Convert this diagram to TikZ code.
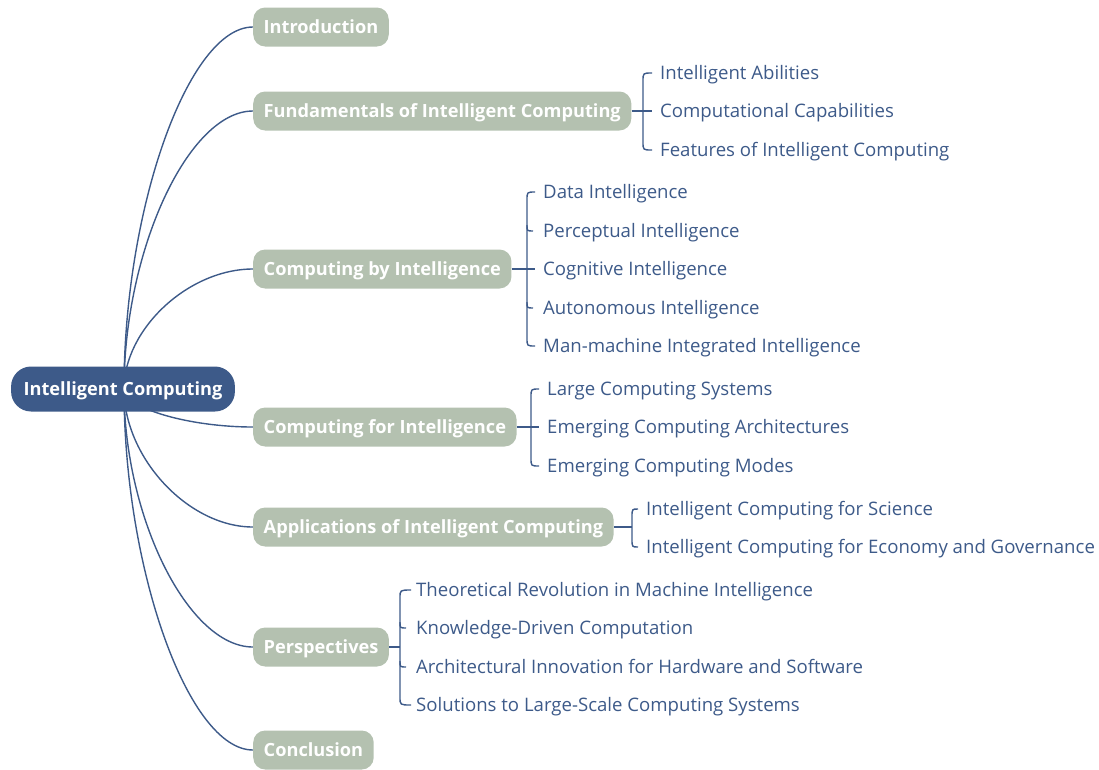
\documentclass[tikz,border=0pt]{standalone}
\usepackage{fontspec}
\setmainfont{Open Sans}
\usetikzlibrary{calc,backgrounds}
\definecolor{mmblue}{HTML}{3D5A89}
\definecolor{mmsage}{HTML}{B4C1B0}
\tikzset{
  x=1pt,y=-1pt,
  rootnode/.style={fill=mmblue,text=white,rounded corners=20pt,minimum height=45pt,inner xsep=12.5pt,
    font=\fontsize{18.2}{21}\selectfont\bfseries,text height=14.5pt,text depth=2.5pt},
  topic/.style={fill=mmsage,text=white,rounded corners=12pt,minimum height=39pt,inner xsep=10.5pt,anchor=west,
    font=\fontsize{18.2}{21}\selectfont\bfseries,text height=14.5pt,text depth=2.5pt},
  leaf/.style={text=mmblue,inner xsep=0pt,anchor=west,font=\fontsize{18.6}{22}\selectfont,text height=15pt,text depth=2.5pt},
  conn/.style={draw=mmblue,line width=1.4pt},
  branch/.style={conn,to path={let \p1=(\tikztostart), \p2=(\tikztotarget) in
    (\p1) .. controls (\x1,{0.5*\y1+0.5*\y2}) and ({0.5*\x1+0.5*\x2},\y2) .. (\p2)}}
}
\begin{document}
\begin{tikzpicture}
\useasboundingbox (0,0) rectangle (1099,769);
% root
\node[rootnode] (root) at (123,389) {Intelligent Computing};
% topics
\node[topic] (intro) at (253,27) {Introduction};
\node[topic] (fund) at (253,111) {Fundamentals of Intelligent Computing};
\node[topic] (cbi) at (253,269) {Computing by Intelligence};
\node[topic] (cfi) at (253,427) {Computing for Intelligence};
\node[topic] (app) at (253,527) {Applications of Intelligent Computing};
\node[topic] (persp) at (253,647) {Perspectives};
\node[topic] (concl) at (253,750) {Conclusion};
% leaves
\node[leaf] (f1) at (660,73) {Intelligent Abilities};
\node[leaf] (f2) at (660,111) {Computational Capabilities};
\node[leaf] (f3) at (660,150) {Features of Intelligent Computing};
\node[leaf] (b1) at (543,192) {Data Intelligence};
\node[leaf] (b2) at (543,231) {Perceptual Intelligence};
\node[leaf] (b3) at (543,269) {Cognitive Intelligence};
\node[leaf] (b4) at (543,308) {Autonomous Intelligence};
\node[leaf] (b5) at (543,346) {Man-machine Integrated Intelligence};
\node[leaf] (c1) at (547,389) {Large Computing Systems};
\node[leaf] (c2) at (547,427) {Emerging Computing Architectures};
\node[leaf] (c3) at (547,466) {Emerging Computing Modes};
\node[leaf] (a1) at (646,509) {Intelligent Computing for Science};
\node[leaf] (a2) at (646,547) {Intelligent Computing for Economy and Governance};
\node[leaf] (p1) at (416,590) {Theoretical Revolution in Machine Intelligence};
\node[leaf] (p2) at (416,628) {Knowledge-Driven Computation};
\node[leaf] (p3) at (416,667) {Architectural Innovation for Hardware and Software};
\node[leaf] (p4) at (416,705) {Solutions to Large-Scale Computing Systems};
% brace x positions
\coordinate (fx) at (643,111);
\coordinate (bx) at (527,269);
\coordinate (cx) at (531,427);
\coordinate (ax) at (632,527);
\coordinate (px) at (400,647);
\begin{pgfonlayer}{background}
\draw[branch] ([xshift=1pt]root.center) to (intro.west);
\draw[branch] ([xshift=1pt]root.center) to (fund.west);
\draw[branch] ([xshift=1pt]root.center) to (cbi.west);
\draw[branch] ([xshift=1pt]root.center) to (cfi.west);
\draw[branch] ([xshift=1pt]root.center) to (app.west);
\draw[branch] ([xshift=1pt]root.center) to (persp.west);
\draw[branch] ([xshift=1pt]root.center) to (concl.west);
\end{pgfonlayer}
% fundamentals brace
\draw[conn] (fund.east) -- ($(f2.west)+(-8,0)$);
\draw[conn] ($(f1.west)+(-8,0)$) .. controls (fx |- f1.west) .. ($(fx |- f1.west)+(0,8)$)
  -- ($(fx |- f3.west)+(0,-8)$) .. controls (fx |- f3.west) .. ($(f3.west)+(-8,0)$);
% computing by intelligence brace
\draw[conn] (cbi.east) -- ($(b3.west)+(-8,0)$);
\draw[conn] ($(b1.west)+(-8,0)$) .. controls (bx |- b1.west) .. ($(bx |- b1.west)+(0,8)$)
  -- ($(bx |- b5.west)+(0,-8)$) .. controls (bx |- b5.west) .. ($(b5.west)+(-8,0)$);
\draw[conn] ($(bx |- b2.west)+(0,-6)$) .. controls (bx |- b2.west) .. ($(b2.west)+(-10,0)$);
\draw[conn] ($(bx |- b4.west)+(0,-6)$) .. controls (bx |- b4.west) .. ($(b4.west)+(-10,0)$);
% computing for intelligence brace
\draw[conn] (cfi.east) -- ($(c2.west)+(-8,0)$);
\draw[conn] ($(c1.west)+(-8,0)$) .. controls (cx |- c1.west) .. ($(cx |- c1.west)+(0,8)$)
  -- ($(cx |- c3.west)+(0,-8)$) .. controls (cx |- c3.west) .. ($(c3.west)+(-8,0)$);
% applications brace
\draw[conn] (app.east) -- (ax);
\draw[conn] ($(a1.west)+(-8,0)$) .. controls (ax |- a1.west) .. ($(ax |- a1.west)+(0,8)$)
  -- ($(ax |- a2.west)+(0,-8)$) .. controls (ax |- a2.west) .. ($(a2.west)+(-8,0)$);
% perspectives brace
\draw[conn] (persp.east) -- (px);
\draw[conn] ($(p1.west)+(-5,0)$) .. controls (px |- p1.west) .. ($(px |- p1.west)+(0,8)$)
  -- ($(px |- p4.west)+(0,-8)$) .. controls (px |- p4.west) .. ($(p4.west)+(-5,0)$);
\draw[conn] ($(px |- p2.west)+(0,-6)$) .. controls (px |- p2.west) .. ($(p2.west)+(-10,0)$);
\draw[conn] ($(px |- p3.west)+(0,-6)$) .. controls (px |- p3.west) .. ($(p3.west)+(-10,0)$);
\end{tikzpicture}
\end{document}
